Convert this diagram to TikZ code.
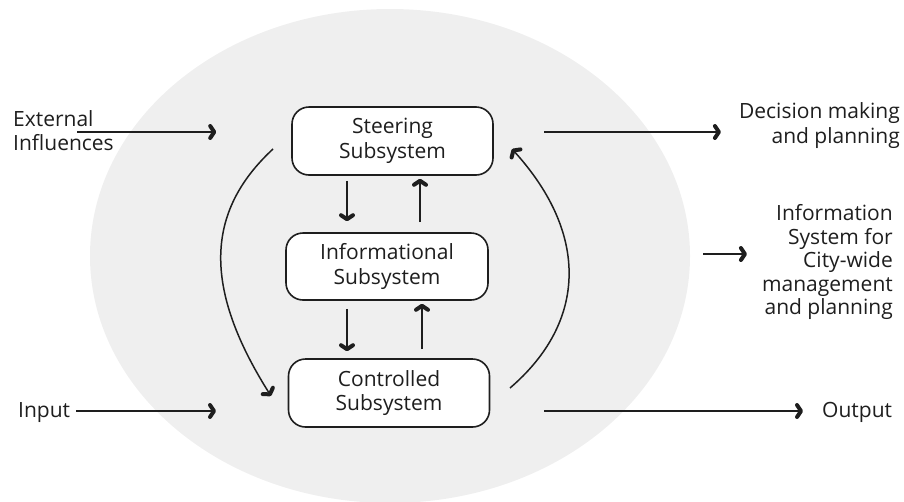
\documentclass[tikz,border=0pt]{standalone}
\usepackage{fontspec}
\setmainfont{Open Sans}
\usetikzlibrary{arrows.meta,calc}
\definecolor{ellgray}{HTML}{EFEFEF}
\definecolor{ink}{HTML}{1E1E1E}
\begin{document}
\begin{tikzpicture}[x=1pt,y=-1pt,
  txt/.style={font=\fontsize{21}{24.5}\selectfont, text=ink, inner sep=0pt},
  sysbox/.style={txt, draw=ink, line width=1.6pt, rounded corners=17pt, fill=white,
     minimum width=201pt, minimum height=68pt, align=center},
  arr/.style={draw=ink, line width=1.5pt,
     -{Straight Barb[length=4pt,width=12pt,line width=4pt,round]}}
]
\useasboundingbox (0,0) rectangle (904,501);
\fill[ellgray] (390,256) ellipse [x radius=300, y radius=247];

\node[sysbox] (steer) at (392.5,141) {Steering\\Subsystem};
\node[sysbox, minimum width=202pt, minimum height=67pt] (info) at (387,266.5) {Informational\\Subsystem};
\node[sysbox] (ctrl) at (389,393) {Controlled\\Subsystem};

\node[txt, anchor=west, align=left] (ext) at (13,130.5) {External\\Influences};
\node[txt, anchor=east, align=right] (dec) at (900,125.5) {Decision making\\and planning};
\node[txt, anchor=east, align=right, font=\fontsize{21}{23.5}\selectfont] (isys) at (893,262)
  {Information\\System for\\City-wide\\management\\and planning};
\node[txt, anchor=west] (inp) at (18,413) {Input};
\node[txt, anchor=west] (outp) at (822,412) {Output};

% straight connectors
\coordinate (extS) at (77,132);
\draw[arr] (extS) -- (extS -| {$(steer.west)+(-75,0)$});
\coordinate (decS) at (544,132);
\draw[arr] (decS) -- ($(dec.west |- decS)+(-18,0)$);
\coordinate (isysS) at (703,254);
\draw[arr] (isysS) -- ($(isys.west |- isysS)+(-15,0)$);
\coordinate (inpE) at (216,411);
\draw[arr] ($(inp.east |- inpE)+(6,0)$) -- (inpE);
\coordinate (outS) at (544,411);
\draw[arr] (outS) -- ($(outp.west |- outS)+(-19,0)$);

% vertical arrows between subsystems
\coordinate (d1) at ([xshift=-45.5pt,yshift=-5pt]steer.south);
\draw[arr] (d1) -- ($(d1 |- info.north)+(0,-11)$);
\coordinate (u1) at ([xshift=33pt,yshift=10pt]info.north);
\draw[arr] (u1) -- ($(u1 |- steer.south)+(0,3)$);
\coordinate (d2) at ([xshift=-40pt,yshift=-8pt]info.south);
\draw[arr] (d2) -- ($(d2 |- ctrl.north)+(0,-7)$);
\coordinate (u2) at ([xshift=33pt,yshift=9pt]ctrl.north);
\draw[arr] (u2) -- ($(u2 |- info.south)+(0,3)$);

% curved feedback arrows
\coordinate (lcS) at (273,149);
\coordinate (lcE) at (271,396);
\draw[arr] (lcS) .. controls (205,212) and (203,288) .. (lcE);
\coordinate (rcS) at (510,388);
\coordinate (rcE) at (512,149);
\draw[arr] (rcS) .. controls (587,322) and (589,234) .. (rcE);
\end{tikzpicture}
\end{document}
